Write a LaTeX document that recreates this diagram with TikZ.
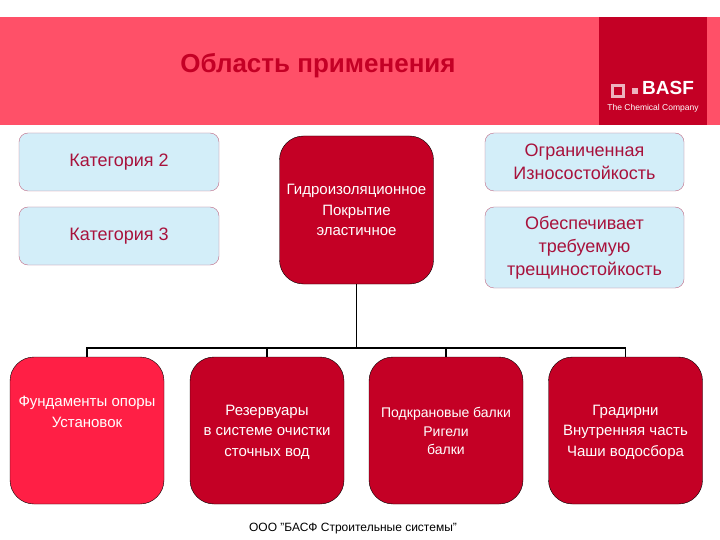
\documentclass[tikz,border=0pt]{standalone}
\usepackage{fontspec}
\setmainfont{Liberation Sans}
\definecolor{headpink}{HTML}{FF5068}
\definecolor{basfred}{HTML}{C40025}
\definecolor{fundred}{HTML}{FF1F45}
\definecolor{palecat}{HTML}{D3EEF9}
\definecolor{catline}{HTML}{C06A85}
\definecolor{cattext}{HTML}{A8123C}
\tikzset{
	catbox/.style={draw=catline,fill=palecat,rounded corners=9,minimum width=200,minimum height=58,inner sep=0,outer sep=0,text=cattext,font=\fontsize{18}{23}\selectfont,align=center},
	redbox/.style={draw=black,fill=basfred,rounded corners=24,minimum width=154,minimum height=147,inner sep=0,outer sep=0},
	redtext/.style={text=white,font=\fontsize{15}{20.5}\selectfont,align=center,inner sep=0},
}
\begin{document}
\begin{tikzpicture}[x=1pt,y=-1pt]
	\useasboundingbox (0,0) rectangle (720,540);
	\fill[white] (0,0) rectangle (720,540);
	\fill[headpink] (0,17) rectangle (720,125);
	\fill[basfred] (599,17) rectangle (707,125);
	\node[text=basfred,font=\bfseries\fontsize{26}{30}\selectfont,inner sep=0] (title) at (318,66) {Область применения};
	\node[text=white,font=\bfseries\fontsize{19}{20}\selectfont,inner sep=0] (basf) at (668,88) {BASF};
	\node[text=white,font=\fontsize{8.5}{10}\selectfont,inner sep=0] (chem) at (653,108) {The Chemical Company};
	\node[draw=white!70!basfred,line width=3,fill=basfred,minimum size=11,inner sep=0] (logo) at (618,91) {};
	\node[fill=white!70!basfred,minimum size=6,inner sep=0] (dot) at (634.5,91) {};
	\node[catbox] (cat2) at (119,162) {Категория 2};
	\node[catbox] (cat3) at (119,236) {Категория 3};
	\node[catbox,minimum width=199] (wear) at (584.5,162) {Ограниченная\\Износостойкость};
	\node[catbox,minimum width=199,minimum height=81] (crack) at (584.5,247.5) {Обеспечивает\\требуемую\\трещиностойкость};
	\node[redbox,minimum height=148] (center) at (356.5,210) {};
	\node[redbox,fill=fundred] (fund) at (87,430.5) {};
	\node[redbox] (rezerv) at (267,430.5) {};
	\node[redbox] (kran) at (446,430.5) {};
	\node[redbox] (grad) at (625.5,430.5) {};
	\node[redtext] (centertext) at (356.5,210) {Гидроизоляционное\\Покрытие\\эластичное};
	\node[redtext] (fundtext) at (87,412) {Фундаменты опоры\\Установок};
	\node[redtext] (rezervtext) at (267,432) {Резервуары\\в системе очистки\\сточных вод};
	\node[redtext,font=\fontsize{14}{18.5}\selectfont] (krantext) at (446,431) {Подкрановые балки\\Ригели\\балки};
	\node[redtext] (gradtext) at (625.5,432) {Градирни\\Внутренняя часть\\Чаши водосбора};
	\node[font=\fontsize{12}{14}\selectfont,inner sep=0] (ooo) at (353,529) {ООО "БАСФ Строительные системы"};
	\coordinate (bus) at (356.5,348);
	\draw[line width=1.7] (center) -- (bus);
	\foreach \n in {fund,rezerv,kran,grad}
		\draw[line width=1.7] (\n.north) |- (bus);
\end{tikzpicture}
\end{document}
